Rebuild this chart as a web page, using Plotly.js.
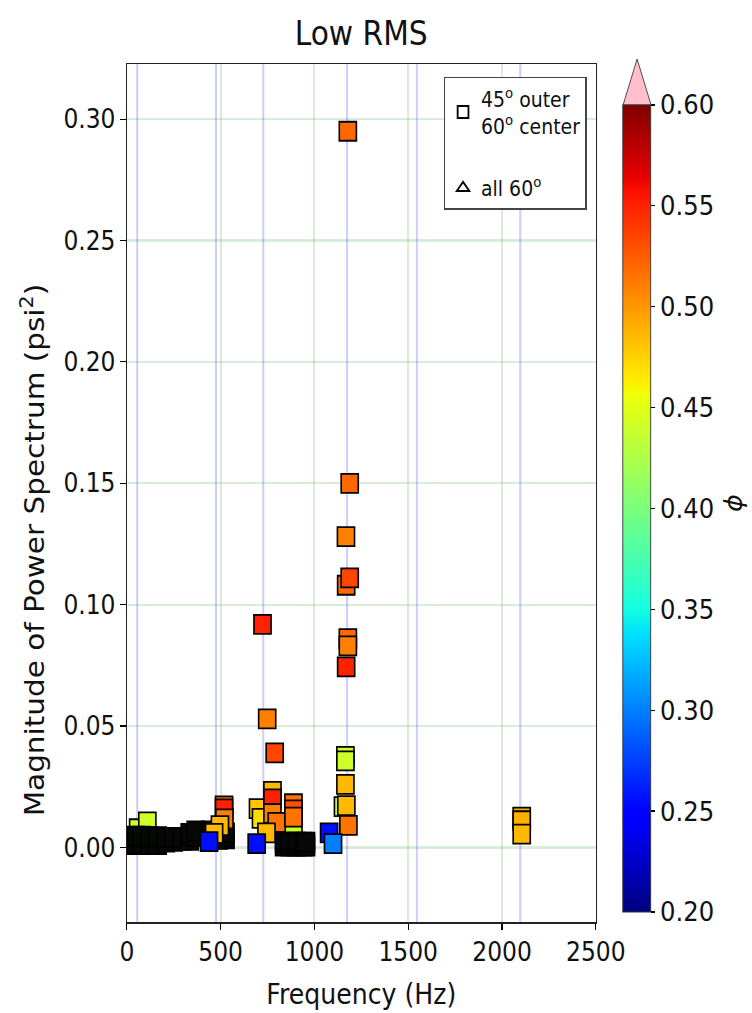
<!DOCTYPE html>
<html>
<head>
<meta charset="utf-8">
<script src="https://cdn.plot.ly/plotly-3.0.1.min.js"></script>
<style>
html, body { margin: 0; padding: 0; overflow: hidden; background: #fff; }
#wrap { width: 836px; height: 1013px; transform: scaleX(0.9); transform-origin: 0 0; }
#chart { width: 836px; height: 1013px; }
</style>
</head>
<body>
<div id="wrap"><div id="chart"></div></div>
<script>
// ---- data ----
// colored points drawn behind the dense unlabelled cluster
const backFreq = [60, 109, 888];
const backMag  = [0.0077, 0.0105, 0.0082];
const backPhi  = [0.44, 0.44, 0.44];

// points without a phi value (black, densely packed near zero)
const noPhiFreq = [46, 46, 78, 78, 121, 121, 164, 164, 207, 207, 249, 249, 292, 292, 335, 335, 367, 367,
                   445, 445, 490, 490, 526, 526,
                   838, 838, 870, 870, 905, 905, 940, 940, 955, 955];
const noPhiMag  = [0.0012, 0.0047, 0.0012, 0.0047, 0.0012, 0.0045, 0.0012, 0.0045, 0.0022, 0.0041,
                   0.0025, 0.0041, 0.0029, 0.0041, 0.0029, 0.0058, 0.0045, 0.0068,
                   0.0035, 0.0068, 0.0033, 0.0065, 0.0035, 0.0060,
                   0.0006, 0.0022, 0.0006, 0.0022, 0.0006, 0.0022, 0.0006, 0.0022, 0.0006, 0.0022];

// colored points in front
const freqHz = [1178, 1188, 1168, 1169, 1188, 1178, 1178, 1169,
                723, 748, 788,
                1165, 1165, 1165, 1152, 1170, 1181, 1078, 1099,
                699, 715, 776, 776, 776, 799, 744, 692,
                888, 888, 888,
                518, 518, 520, 496, 465, 438,
                2105, 2105, 2105];
const magPsi2 = [0.295, 0.150, 0.128, 0.108, 0.111, 0.086, 0.083, 0.0744,
                 0.0919, 0.053, 0.039,
                 0.0375, 0.0357, 0.026, 0.0168, 0.0172, 0.0091, 0.006, 0.0016,
                 0.016, 0.012, 0.0231, 0.020, 0.014, 0.0103, 0.006, 0.0016,
                 0.018, 0.0155, 0.0125,
                 0.0171, 0.0159, 0.0118, 0.009, 0.0058, 0.0024,
                 0.0125, 0.011, 0.0055];
const phi = [0.52, 0.52, 0.51, 0.52, 0.535, 0.52, 0.51, 0.55,
             0.55, 0.51, 0.535,
             0.44, 0.44, 0.485, 0.44, 0.485, 0.515, 0.255, 0.30,
             0.48, 0.47, 0.485, 0.55, 0.51, 0.515, 0.485, 0.255,
             0.515, 0.53, 0.515,
             0.52, 0.55, 0.51, 0.485, 0.485, 0.255,
             0.49, 0.49, 0.485];

// vertical reference frequencies (blue lines)
const resonanceHz = [55, 475, 727, 1174, 1546, 2097];

const xTickVals = [0, 500, 1000, 1500, 2000, 2500];
const yTickVals = [0.00, 0.05, 0.10, 0.15, 0.20, 0.25, 0.30];
const cbTickVals = [0.20, 0.25, 0.30, 0.35, 0.40, 0.45, 0.50, 0.55, 0.60];
const legendLabels = ['45<sup>o</sup> outer<br>60<sup>o</sup> center', 'all 60<sup>o</sup>'];

// matplotlib "jet"
const jet = [
  [0.000, 'rgb(0,0,128)'], [0.110, 'rgb(0,0,255)'], [0.125, 'rgb(0,0,255)'],
  [0.340, 'rgb(0,219,255)'], [0.350, 'rgb(0,230,247)'], [0.375, 'rgb(20,255,226)'],
  [0.640, 'rgb(238,255,8)'], [0.650, 'rgb(247,246,0)'], [0.660, 'rgb(255,236,0)'],
  [0.890, 'rgb(255,19,0)'], [0.910, 'rgb(232,0,0)'], [1.000, 'rgb(128,0,0)']
];

const FONT = 'DejaVu Sans, sans-serif';
const MS = 19, MLW = 1.8;

const traces = [
  {
    type: 'scatter', mode: 'markers', x: backFreq, y: backMag, showlegend: false,
    marker: { symbol: 'square', size: MS, color: backPhi, cmin: 0.2, cmax: 0.6,
              colorscale: jet, showscale: false, line: { color: '#000', width: MLW } },
    hoverinfo: 'skip'
  },
  {
    type: 'scatter', mode: 'markers', x: noPhiFreq, y: noPhiMag, showlegend: false,
    marker: { symbol: 'square', size: MS, color: '#050805', line: { color: '#000', width: MLW } },
    hoverinfo: 'skip'
  },
  {
    type: 'scatter', mode: 'markers', x: freqHz, y: magPsi2, showlegend: false,
    marker: { symbol: 'square', size: MS, color: phi, cmin: 0.2, cmax: 0.6,
              colorscale: jet, line: { color: '#000', width: MLW },
              colorbar: {
                thickness: 31, thicknessmode: 'pixels',
                len: 807, lenmode: 'pixels',
                x: 1.0582, xanchor: 'left', xpad: 0,
                y: 0.0117, yanchor: 'bottom', ypad: 0,
                outlinewidth: 1, outlinecolor: '#333',
                tickvals: cbTickVals, tickformat: '.2f',
                ticks: 'outside', ticklen: 5, tickwidth: 1.2, tickcolor: '#000',
                tickfont: { family: FONT, size: 27, color: '#111' }
              } },
    hoverinfo: 'skip'
  },
  {
    type: 'scatter', mode: 'markers', x: [null], y: [null], name: legendLabels[0], legendgroup: 'a',
    marker: { symbol: 'square-open', size: 11, color: '#000', line: { width: 1.5 } }
  },
  {
    type: 'scatter', mode: 'markers', x: [null], y: [null], name: legendLabels[1], legendgroup: 'b',
    marker: { symbol: 'triangle-up-open', size: 11, color: '#000', line: { width: 1.5 } }
  }
];

const shapes = resonanceHz.map(f => ({
  type: 'line', xref: 'x', yref: 'paper', x0: f, x1: f, y0: 0, y1: 1,
  line: { color: 'rgba(0,0,255,0.2)', width: 2.2 }, layer: 'below'
}));
// colorbar "extend" triangle (over-range colour)
shapes.push({
  type: 'path', xref: 'paper', yref: 'paper',
  path: 'M 1.0582 0.9522 L 1.1179 0.9522 L 1.0881 1.0058 Z',
  fillcolor: '#ffc0cb', line: { color: '#444', width: 1 }
});

const layout = {
  width: 836, height: 1013,
  margin: { l: 141, r: 174, t: 64, b: 91 },
  paper_bgcolor: '#fff', plot_bgcolor: '#fff',
  font: { family: FONT, color: '#111' },
  title: { text: 'Low RMS', x: 0.48, xanchor: 'center', y: 0.967, yanchor: 'middle',
           font: { family: FONT, size: 33, color: '#111' } },
  xaxis: {
    range: [0, 2500], tickvals: xTickVals, ticks: 'outside', ticklen: 6, tickwidth: 1.2,
    tickcolor: '#000', showline: true, linecolor: '#222', linewidth: 1.5, mirror: true,
    showgrid: true, gridcolor: 'rgba(0,128,0,0.15)', gridwidth: 2.2, zeroline: false,
    tickfont: { family: FONT, size: 26, color: '#111' },
    title: { text: 'Frequency (Hz)', standoff: 18, font: { family: FONT, size: 28, color: '#111' } }
  },
  yaxis: {
    range: [-0.0307, 0.3227], tickvals: yTickVals, tickformat: '.2f', ticks: 'outside',
    ticklen: 6, tickwidth: 1.2, tickcolor: '#000', showline: true, linecolor: '#222',
    linewidth: 1.5, mirror: true, showgrid: true, gridcolor: 'rgba(0,128,0,0.15)', gridwidth: 2.2,
    zeroline: false, tickfont: { family: FONT, size: 26, color: '#111' }
  },
  showlegend: true,
  legend: {
    x: 0.9808, xanchor: 'right', y: 0.9852, yanchor: 'top',
    bgcolor: '#fff', bordercolor: '#444', borderwidth: 1.5, traceorder: 'grouped',
    font: { family: FONT, size: 21, color: '#111' }, itemsizing: 'constant', tracegroupgap: 32
  },
  shapes: shapes,
  annotations: [
    { text: 'Magnitude of Power Spectrum (psi<sup>2</sup>)', xref: 'paper', yref: 'paper',
      x: -0.2005, y: 0.4336, xanchor: 'center', yanchor: 'middle', textangle: -90, showarrow: false,
      font: { family: FONT, size: 29.5, color: '#111' } },
    { text: '<i>ϕ</i>', xref: 'paper', yref: 'paper', x: 1.294, y: 0.4885,
      xanchor: 'center', yanchor: 'middle', textangle: -90, showarrow: false,
      font: { family: FONT, size: 27, color: '#111' } }
  ]
};

Plotly.newPlot('chart', traces, layout, { displayModeBar: false, staticPlot: true });
</script>
</body>
</html>
